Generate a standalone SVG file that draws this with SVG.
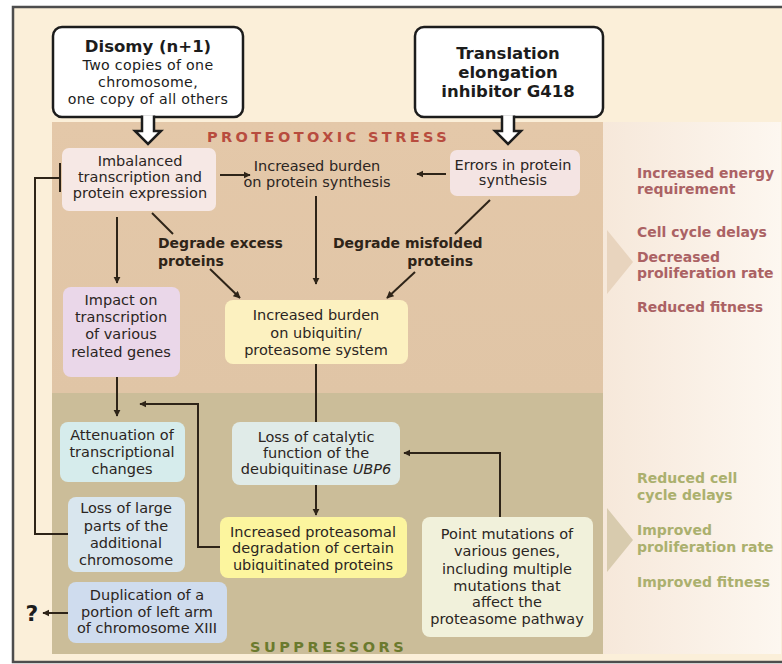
<svg xmlns="http://www.w3.org/2000/svg" width="782" height="664" viewBox="0 0 782 664">
<defs>
<linearGradient id="rg" x1="0" x2="1" y1="0" y2="0">
<stop offset="0" stop-color="#f6e8da"/><stop offset="1" stop-color="#fdf7f0"/>
</linearGradient>
<linearGradient id="pg" x1="0" x2="0" y1="0" y2="1">
<stop offset="0" stop-color="#e4c8a9"/><stop offset="1" stop-color="#e0c5a6"/>
</linearGradient>
<marker id="ah" viewBox="0 0 10 10" refX="9" refY="5" markerWidth="3.6" markerHeight="3.6" orient="auto-start-reverse" markerUnits="strokeWidth">
<path d="M0,0 L10,5 L0,10 z" fill="#2e2418"/>
</marker>
<style>
.t{font-family:"DejaVu Sans",sans-serif;font-size:14.5px;fill:#2b2522;text-anchor:middle}
.tb{font-family:"DejaVu Sans",sans-serif;font-size:16.5px;font-weight:bold;fill:#1c1c1c;text-anchor:middle}
.tr{font-family:"DejaVu Sans",sans-serif;font-size:14.2px;letter-spacing:0.3px;fill:#1c1c1c;text-anchor:middle}
.lbl{font-family:"DejaVu Sans",sans-serif;font-size:14px;font-weight:bold;fill:#2e2418}
.red{font-family:"DejaVu Sans",sans-serif;font-size:14px;font-weight:bold;fill:#ab6264}
.grn{font-family:"DejaVu Sans",sans-serif;font-size:14px;font-weight:bold;fill:#abb06e}
.ln{stroke:#2e2418;stroke-width:2;fill:none}
.src{fill:#ffffff;stroke:#1c1c1c;stroke-width:2.5}
.hol{fill:#ffffff;stroke:#1c1c1c;stroke-width:2.5;stroke-linejoin:miter}
</style>
</defs>

<!-- background & frame -->
<rect x="0" y="0" width="782" height="664" fill="#ffffff"/>
<rect x="13" y="7" width="780" height="655" fill="#fbefd9" stroke="#4d4d4d" stroke-width="2.5"/>
<rect x="603" y="122" width="178" height="532" fill="url(#rg)"/>
<rect x="52" y="122" width="551" height="271" fill="url(#pg)"/>
<rect x="52" y="393" width="551" height="261" fill="#cbbd99"/>
<polygon points="607,230 633,262 607,294" fill="#e8d4be"/>
<polygon points="607,508 633,540 607,572" fill="#d8cbae"/>

<text x="207" y="142" style="font-family:'DejaVu Sans',sans-serif;font-size:14.5px;font-weight:bold;fill:#b84c3e;letter-spacing:3.4px">PROTEOTOXIC STRESS</text>
<text x="250" y="652" style="font-family:'DejaVu Sans',sans-serif;font-size:14.5px;font-weight:bold;fill:#6b7a2e;letter-spacing:3.5px">SUPPRESSORS</text>

<!-- right-side outcome texts -->
<g id="outcomes-stress">
<text class="red" x="637" y="178">Increased energy</text>
<text class="red" x="637" y="194">requirement</text>
<text class="red" x="637" y="237">Cell cycle delays</text>
<text class="red" x="637" y="262">Decreased</text>
<text class="red" x="637" y="278">proliferation rate</text>
<text class="red" x="637" y="312">Reduced fitness</text>
</g>
<g id="outcomes-suppressors">
<text class="grn" x="637" y="483">Reduced cell</text>
<text class="grn" x="637" y="500">cycle delays</text>
<text class="grn" x="637" y="535">Improved</text>
<text class="grn" x="637" y="552">proliferation rate</text>
<text class="grn" x="637" y="587">Improved fitness</text>
</g>

<!-- connectors -->
<g id="connectors">
<line class="ln" x1="220" y1="175" x2="250" y2="175" marker-end="url(#ah)"/>
<line class="ln" x1="446" y1="174" x2="417" y2="174" marker-end="url(#ah)"/>
<line class="ln" x1="316" y1="196" x2="316" y2="284" marker-end="url(#ah)"/>
<line class="ln" x1="152" y1="213" x2="173" y2="234"/>
<line class="ln" x1="210" y1="269" x2="240" y2="298" marker-end="url(#ah)"/>
<line class="ln" x1="490" y1="200" x2="455" y2="234"/>
<line class="ln" x1="415" y1="272" x2="387" y2="298" marker-end="url(#ah)"/>
<line class="ln" x1="117" y1="217" x2="117" y2="283" marker-end="url(#ah)"/>
<line class="ln" x1="316" y1="364" x2="316" y2="422"/>
<line class="ln" x1="117" y1="377" x2="117" y2="416" marker-end="url(#ah)"/>
<path class="ln" d="M68,534 H35 V178 H60"/>
<line class="ln" x1="60" y1="163" x2="60" y2="192"/>
<line class="ln" x1="68" y1="613" x2="43" y2="613" marker-end="url(#ah)"/>
<line class="ln" x1="316" y1="485" x2="316" y2="515" marker-end="url(#ah)"/>
<path class="ln" d="M220,547 H198 V404 H140" marker-end="url(#ah)"/>
<path class="ln" d="M500,517 V453 H404" marker-end="url(#ah)"/>
</g>

<!-- source nodes -->
<g id="disomy">
<rect class="src" x="53" y="27" width="190" height="90" rx="9"/>
<path class="hol" d="M142,115.5 V131 H135 L148,144 L161,131 H154 V115.5"/>
<text class="tb" x="148" y="52">Disomy (n+1)</text>
<text class="tr" x="148" y="70">Two copies of one</text>
<text class="tr" x="148" y="87">chromosome,</text>
<text class="tr" x="148" y="104">one copy of all others</text>
</g>
<g id="g418">
<rect class="src" x="415" y="27" width="188" height="90" rx="9"/>
<path class="hol" d="M502,115.5 V131 H495 L508,144 L521,131 H514 V115.5"/>
<text class="tb" x="508" y="59">Translation</text>
<text class="tb" x="508" y="78">elongation</text>
<text class="tb" x="508" y="97">inhibitor G418</text>
</g>

<!-- proteotoxic stress nodes -->
<g id="imbalanced">
<rect x="62" y="148" width="154" height="63" rx="7" fill="#f6e8e5"/>
<text class="t" x="140" y="166">Imbalanced</text>
<text class="t" x="140" y="182">transcription and</text>
<text class="t" x="140" y="198">protein expression</text>
</g>
<g id="burden-synthesis">
<text class="t" x="317" y="171">Increased burden</text>
<text class="t" x="317" y="187">on protein synthesis</text>
</g>
<g id="errors">
<rect x="450" y="150" width="130" height="46" rx="7" fill="#f4e4e3"/>
<text class="t" x="513" y="170">Errors in protein</text>
<text class="t" x="513" y="185">synthesis</text>
</g>
<g id="degrade-excess">
<text class="lbl" x="158" y="248">Degrade excess</text>
<text class="lbl" x="158" y="266">proteins</text>
</g>
<g id="degrade-misfolded">
<text class="lbl" x="333" y="248">Degrade misfolded</text>
<text class="lbl" x="473" y="266" text-anchor="end">proteins</text>
</g>
<g id="impact">
<rect x="63" y="287" width="117" height="90" rx="8" fill="#ead7e9"/>
<text class="t" x="121" y="305">Impact on</text>
<text class="t" x="121" y="322">transcription</text>
<text class="t" x="121" y="339">of various</text>
<text class="t" x="121" y="357">related genes</text>
</g>
<g id="burden-ubiquitin">
<rect x="225" y="300" width="183" height="64" rx="8" fill="#fcf1c0"/>
<text class="t" x="316" y="320">Increased burden</text>
<text class="t" x="316" y="338">on ubiquitin/</text>
<text class="t" x="316" y="355">proteasome system</text>
</g>

<!-- suppressor nodes -->
<g id="attenuation">
<rect x="60" y="422" width="125" height="60" rx="8" fill="#d6ecec"/>
<text class="t" x="122" y="440">Attenuation of</text>
<text class="t" x="122" y="457">transcriptional</text>
<text class="t" x="122" y="474">changes</text>
</g>
<g id="loss-large">
<rect x="68" y="497" width="117" height="75" rx="8" fill="#d9e6ee"/>
<text class="t" x="126" y="513">Loss of large</text>
<text class="t" x="126" y="531">parts of the</text>
<text class="t" x="126" y="548">additional</text>
<text class="t" x="126" y="565">chromosome</text>
</g>
<g id="duplication">
<rect x="68" y="582" width="159" height="61" rx="8" fill="#cfdcee"/>
<text class="t" x="147" y="600">Duplication of a</text>
<text class="t" x="147" y="617">portion of left arm</text>
<text class="t" x="147" y="633">of chromosome XIII</text>
</g>
<g id="question">
<text x="32" y="621" style="font-family:'DejaVu Sans',sans-serif;font-size:22px;font-weight:bold;fill:#1c1c1c;text-anchor:middle">?</text>
</g>
<g id="ubp6">
<rect x="232" y="422" width="168" height="63" rx="8" fill="#e0ebe8"/>
<text class="t" x="316" y="442">Loss of catalytic</text>
<text class="t" x="316" y="458">function of the</text>
<text class="t" x="316" y="474">deubiquitinase <tspan font-style="italic">UBP6</tspan></text>
</g>
<g id="proteasomal">
<rect x="220" y="517" width="187" height="61" rx="8" fill="#fcf59e"/>
<text class="t" x="313" y="537">Increased proteasomal</text>
<text class="t" x="313" y="553">degradation of certain</text>
<text class="t" x="313" y="570">ubiquitinated proteins</text>
</g>
<g id="point-mutations">
<rect x="422" y="517" width="171" height="120" rx="8" fill="#f1f1db"/>
<text class="t" x="507" y="539">Point mutations of</text>
<text class="t" x="507" y="556">various genes,</text>
<text class="t" x="507" y="574">including multiple</text>
<text class="t" x="507" y="591">mutations that</text>
<text class="t" x="507" y="607">affect the</text>
<text class="t" x="507" y="624">proteasome pathway</text>
</g>
</svg>
